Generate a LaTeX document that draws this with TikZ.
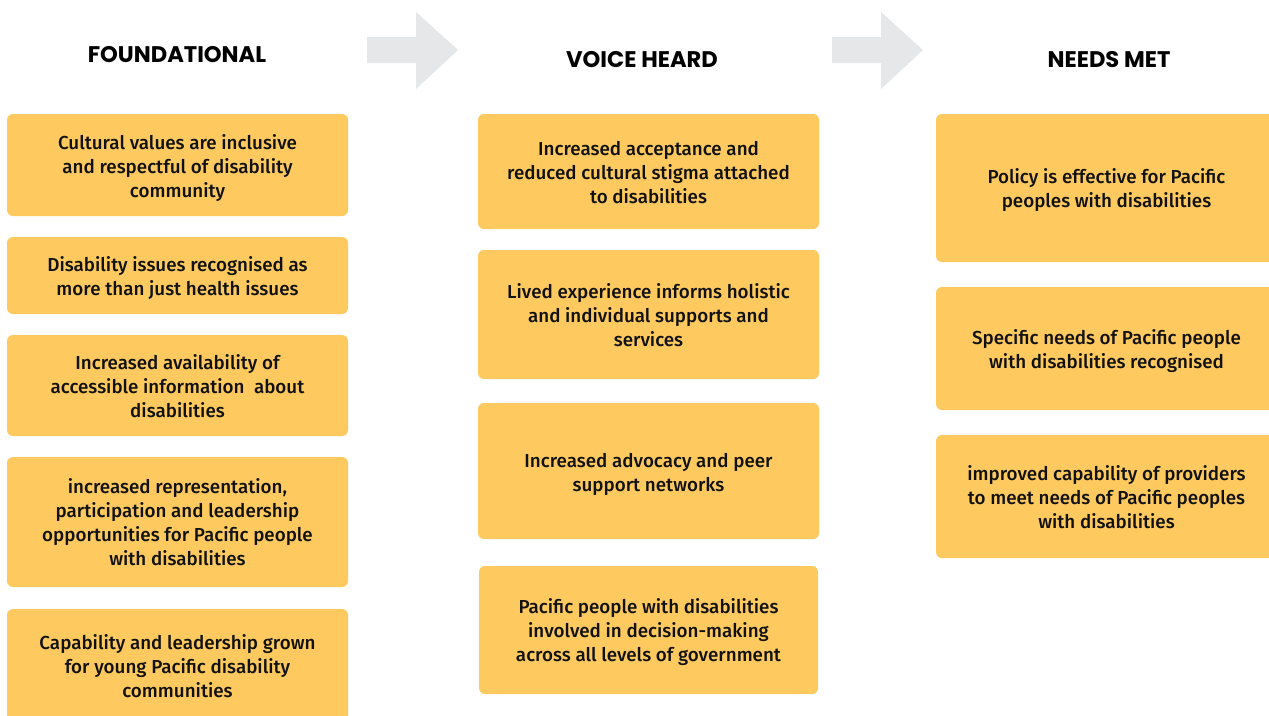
\documentclass[tikz,border=0pt]{standalone}
\usepackage{fontspec}
\setmainfont{Fira Sans}[UprightFont=* Medium, BoldFont=* Bold]
\newfontfamily\headfont{Poppins}
\definecolor{boxfill}{HTML}{FEC95F}
\definecolor{arrowgrey}{HTML}{E6E7E8}
\definecolor{txt}{HTML}{111111}
\tikzset{
  box/.style={rectangle, rounded corners=6pt, fill=boxfill, draw=none, inner sep=0pt},
  boxtext/.style={align=center, text=txt, font=\fontsize{18.8}{24}\selectfont, inner sep=0pt},
  header/.style={font=\headfont\bfseries\fontsize{22.6}{24}\selectfont, text=black},
  flowarrow/.style={fill=arrowgrey, draw=none}
}
\begin{document}
\begin{tikzpicture}[x=1pt,y=-1pt]
\useasboundingbox (0,0) rectangle (1269,715);
\fill[white] (0,0) rectangle (1269,715);
% headers
\node[header] (h1) at (177,55) {FOUNDATIONAL};
\node[header] (h2) at (642,60) {VOICE HEARD};
\node[header] (h3) at (1109,60) {NEEDS MET};
% arrows
\fill[flowarrow] (367,37) -- (416,37) -- (416,12) -- (458,50) -- (416,89) -- (416,63) -- (367,63) -- cycle;
\fill[flowarrow] (832,37) -- (881,37) -- (881,12) -- (923,50) -- (881,89) -- (881,63) -- (832,63) -- cycle;
% column 1
\node[box, minimum width=341pt, minimum height=102pt] (f1) at (177.5,165) {};
\node[boxtext] (f1t) at ([yshift=-3.5pt]f1.center) {Cultural values are inclusive\\and respectful of disability\\community};
\node[box, minimum width=341pt, minimum height=77pt] (f2) at (177.5,275.5) {};
\node[boxtext] (f2t) at ([yshift=-3pt]f2.center) {Disability issues recognised as\\more than just health issues};
\node[box, minimum width=341pt, minimum height=101pt] (f3) at (177.5,385.5) {};
\node[boxtext] (f3t) at ([yshift=-0.5pt]f3.center) {Increased availability of\\accessible information\ \ about\\disabilities};
\node[box, minimum width=341pt, minimum height=130pt] (f4) at (177.5,522) {};
\node[boxtext] (f4t) at ([yshift=-0.5pt]f4.center) {increased representation,\\participation and leadership\\opportunities for Pacific people\\with disabilities};
\node[box, minimum width=341pt, minimum height=140pt] (f5) at (177.5,679) {};
\node[boxtext] (f5t) at ([yshift=13pt]f5.center) {Capability and leadership grown\\for young Pacific disability\\communities};
% column 2
\node[box, minimum width=341pt, minimum height=115pt] (v1) at (648.5,171.5) {};
\node[boxtext] (v1t) at ([yshift=-1.5pt]v1.center) {Increased acceptance and\\reduced cultural stigma attached\\to disabilities};
\node[box, minimum width=341pt, minimum height=129pt] (v2) at (648.5,314.5) {};
\node[boxtext] (v2t) at ([yshift=-0.5pt]v2.center) {Lived experience informs holistic\\and individual supports and\\services};
\node[box, minimum width=341pt, minimum height=136pt] (v3) at (648.5,471) {};
\node[boxtext] (v3t) at ([yshift=-3pt]v3.center) {Increased advocacy and peer\\support networks};
\node[box, minimum width=339pt, minimum height=128pt] (v4) at (648.5,630) {};
\node[boxtext] (v4t) at ([yshift=-2pt]v4.center) {Pacific people with disabilities\\involved in decision-making\\across all levels of government};
% column 3
\node[box, minimum width=341pt, minimum height=148pt] (n1) at (1106.5,188) {};
\node[boxtext] (n1t) at ([yshift=-2.5pt]n1.center) {Policy is effective for Pacific\\peoples with disabilities};
\node[box, minimum width=341pt, minimum height=123pt] (n2) at (1106.5,348.5) {};
\node[boxtext] (n2t) at ([yshift=-2.5pt]n2.center) {Specific needs of Pacific people\\with disabilities recognised};
\node[box, minimum width=341pt, minimum height=123pt] (n3) at (1106.5,496.5) {};
\node[boxtext] (n3t) at ([yshift=-0.5pt]n3.center) {improved capability of providers\\to meet needs of Pacific peoples\\with disabilities};
\end{tikzpicture}
\end{document}
